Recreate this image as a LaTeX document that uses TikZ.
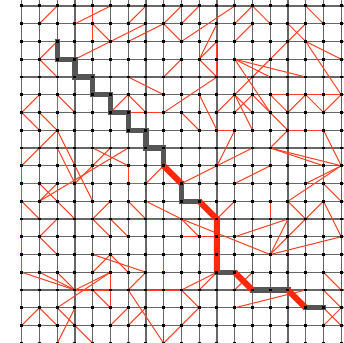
\documentclass[tikz,border=0pt]{standalone}
\usepackage{xcolor}
\usepackage{tikz}
\definecolor{linkred}{RGB}{255, 64, 32}
\definecolor{walkred}{RGB}{255, 40, 10}
\definecolor{walkgray}{RGB}{85, 85, 85}

\begin{document}
\begin{tikzpicture}[
    x=0.5cm, y=0.5cm,
    gridline/.style={
        draw=black!60,
        line width=1pt
    },
    link/.style={
        draw=linkred,
        line width=0.8pt
    },
    walkstep/.style={
        draw=walkgray,
        line width=4.2pt,
        line cap=rect
    },
    walkjump/.style={
        draw=walkred,
        line width=4.8pt
    },
    dot/.style={
        rectangle,
        fill=black,
        inner sep=0pt,
        minimum size=2.4pt
    }
]
\useasboundingbox (-1.2225,0.338) rectangle (18.158,-18.986);

% ==================== LATTICE ====================

\foreach \i in {0,...,18}
  \foreach \j in {0,...,19}
    \coordinate (v-\i-\j) at (\i,-\j);

\foreach \i in {0,...,18}
  \draw [gridline] (\i,0.338) -- (\i,-18.986);
\foreach \j in {0,...,19}
  \draw [gridline] (0,-\j) -- (18.158,-\j);

% ==================== LONG-RANGE CONTACTS ====================

% upper left
\foreach \a/\b/\c/\d in {
    1/1/2/0, 3/1/5/0, 4/0/4/2, 4/1/5/2, 6/1/7/0, 3/3/7/1, 6/2/8/1, 8/1/9/0,
    8/1/9/2, 1/3/2/2, 1/3/2/4, 6/4/8/5, 0/6/1/5, 2/5/3/6, 2/5/2/9, 5/6/6/5,
    6/5/7/6, 6/6/8/6, 0/6/1/7, 1/6/2/7, 2/7/0/9, 2/7/4/11, 0/8/0/15, 2/8/3/10,
    4/8/6/9, 3/10/5/8, 9/3/8/4}
  \draw [link] (v-\a-\b) -- (v-\c-\d);

% upper right
\foreach \a/\b/\c/\d in {
    9/1/10/0, 9/2/12/0, 10/3/11/1, 10/3/11/2, 10/3/11/4, 11/2/11/4, 12/1/13/0,
    13/0/14/1, 12/2/13/1, 16/0/17/1, 15/1/16/2, 16/2/18/3, 16/2/18/5, 12/3/16/4,
    12/3/14/4, 12/3/14/6, 11/4/8/6, 14/5/18/5, 14/5/15/6, 15/6/16/5, 16/5/17/6,
    17/6/18/5, 11/6/16/1, 12/5/13/6, 13/5/12/6, 10/5/11/7, 12/5/13/7, 13/5/14/6,
    11/7/12/7, 12/7/11/9, 14/8/18/9, 14/8/17/9, 15/7/14/8, 15/7/17/7, 17/7/18/9,
    14/6/15/7, 9/10/13/8, 12/10/14/9, 9/6/10/7, 18/9/15/11, 18/9/16/10,
    17/10/18/11}
  \draw [link] (v-\a-\b) -- (v-\c-\d);

% lower left
\foreach \a/\b/\c/\d in {
    0/10/1/10, 1/10/2/11, 1/11/2/10, 1/11/6/8, 2/11/3/12, 0/11/1/12, 1/13/2/12,
    1/13/2/14, 4/14/7/15, 5/14/4/15, 5/14/6/15, 8/14/8/16, 0/15/3/16, 1/15/3/16,
    2/15/3/16, 3/16/5/15, 5/15/5/17, 3/16/5/16, 2/17/5/15, 4/16/5/17, 0/18/1/17,
    1/17/2/18, 2/17/3/18, 2/19/3/17, 2/19/4/19, 3/18/4/19, 6/12/8/12, 6/11/7/12,
    6/9/6/10, 6/10/7/10, 7/10/8/9, 7/11/9/12, 4/12/5/11, 4/12/5/13, 6/16/8/19,
    6/18/7/17, 5/12/6/13, 6/16/7/15, 7/16/9/16, 9/16/11/15, 9/12/10/13,
    9/13/11/13, 9/16/10/17, 5/18/6/17, 8/19/10/17}
  \draw [link] (v-\a-\b) -- (v-\c-\d);

% lower right
\foreach \a/\b/\c/\d in {
    11/12/12/11, 14/11/14/12, 15/11/16/12, 16/12/17/11, 17/11/18/13, 9/12/14/14,
    14/14/15/12, 14/14/16/12, 14/14/18/13, 12/17/16/16, 10/16/11/15, 17/15/18/16,
    17/16/18/17, 17/17/18/18, 18/17/17/18, 12/13/15/12, 12/16/13/15}
  \draw [link] (v-\a-\b) -- (v-\c-\d);

% ==================== GREEDY ROUTE ====================

\draw [walkstep] (v-2-2) -- (v-2-3) -- (v-3-3) -- (v-3-4) -- (v-4-4) -- (v-4-5)
    -- (v-5-5) -- (v-5-6) -- (v-6-6) -- (v-6-7) -- (v-7-7) -- (v-7-8)
    -- (v-8-8) -- (v-8-9);
\draw [walkstep] (v-9-10) -- (v-9-11) -- (v-10-11);
\draw [walkstep] (v-11-15) -- (v-12-15);
\draw [walkstep] (v-13-16) -- (v-15-16);
\draw [walkstep] (v-16-17) -- (v-17-17);

\draw [walkjump] (v-8-9) -- (v-9-10);
\draw [walkjump] (v-10-11) -- (v-11-12) -- (v-11-15);
\draw [walkjump] (v-12-15) -- (v-13-16);
\draw [walkjump] (v-15-16) -- (v-16-17);

% ==================== VERTICES ====================

\foreach \i in {0,...,18}
  \foreach \j in {0,...,19}
    \node (d-\i-\j) [dot] at (v-\i-\j) {};

\end{tikzpicture}
\end{document}
